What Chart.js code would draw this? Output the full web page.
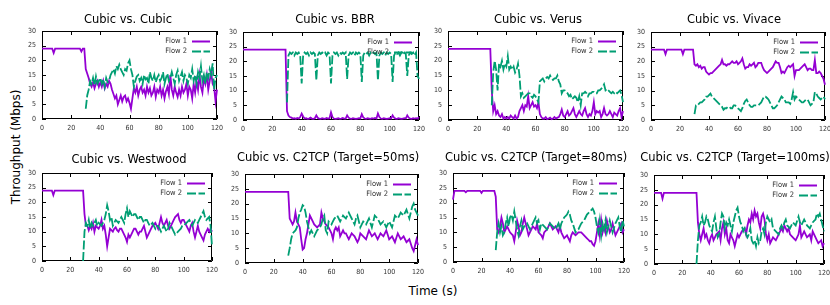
<!DOCTYPE html>
<html lang="en">
<head>
<meta charset="UTF-8">
<title>Cubic throughput comparison</title>
<script src="https://cdn.jsdelivr.net/npm/chart.js"></script>
<style>
  body { margin: 0; width: 830px; height: 305px; overflow: hidden; background: #fff; position: relative; font-family: "DejaVu Sans", sans-serif; }
  canvas { position: absolute; }
  .axis-label { position: absolute; font-size: 12px; color: #000; white-space: nowrap; transform: translate(-50%, -50%); }
  #ylabel { left: 16px; top: 147px; transform: translate(-50%, -50%) rotate(-90deg); }
  #xlabel { left: 433px; top: 291px; }
</style>
</head>
<body>
<div class="axis-label" id="ylabel">Throughput (Mbps)</div>
<div class="axis-label" id="xlabel">Time (s)</div>
<script>
// time axis in seconds
const seconds = Array.from({ length: 121 }, (_, i) => i);
const flow2Start = 29;
const xTicks = [0, 20, 40, 60, 80, 100, 120];
const yTicks = [0, 5, 10, 15, 20, 25, 30];
const seriesNames = ['Flow 1', 'Flow 2'];

// throughput (Mbps), flow 1 from t=0, flow 2 from t=29
const cubicCubicF1 = [24,24,24,24,24,24,24,24,22.5,24, 24,24,24,24,24,24,24,24,24,24, 24,24,24,24,24,24,24,23,24,24,
  17,15.5,14,12,11,12.5,10.5,12,13,11, 12.5,11,13,10.5,12,11,13,12,10,8.5, 7,8,5,6.5,8,6,7.5,8,6,7,
  5.5,3.5,7,10.5,9,11,8,10,11,9, 10,8,11,9,10.5,8,9,11,7.5,10, 9,11,8,10,7,9.5,11,8.5,15,10,
  8,11,9,7.5,10,8,11,9,10,12, 8,11,10,7,12,9,13,10,15,11, 9,14,12,15,10,13,16,12,11,6, 10];
const cubicCubicF2 = [null,
  3.5,8,10,13,12,14,11.5,14.5,12,13, 14,12,13.5,11,14,12.5,13,15,16,17, 15.5,18,17,18.5,17,16,15,17,16.5,19,
  20,17,15,11,13,14.5,15,13,14,12, 15,13.5,14,12,16,14,13,15,12.5,14, 15,13,14,16,12,14,15.5,13,14,16,
  14,12,15,16.5,13,14.5,16,13,15,14, 12,15,14,17,13,15,12,16,14,18, 13,15,12,16,14,17,15,19,10,14, 15];

const cubicBbrF1 = [24,24,24,24,24,24,24,24,24,24, 24,24,24,24,24,24,24,24,24,24, 24,24,24,24,24,24,24,24,24,24,
  3,1.5,1,0.8,0.5,0.6,0.4,0.7,0.5,1, 2.2,1.2,0.5,0.6,0.4,0.5,0.8,0.5,0.4,0.6, 1.6,0.7,0.5,0.4,0.6,0.5,0.4,0.7,0.5,0.6,
  2.6,1,0.5,0.4,0.5,0.6,0.4,0.5,0.7,0.5, 0.5,1.6,0.8,0.5,0.4,0.6,0.5,0.4,0.5,0.6, 0.5,2,0.9,0.5,0.4,0.6,0.5,0.4,0.6,0.5,
  0.7,0.5,2.2,1,0.5,0.4,0.6,0.5,0.4,0.5, 0.6,0.5,1.6,0.8,0.5,0.4,0.6,0.5,0.4,0.5, 0.6,0.5,1.6,0.8,0.5,0.4,0.6,0.5,0.6,0.5, 1];
const cubicBbrF2 = [null,
  6,22,23,22.5,23,22,23,22.5,23,22, 12.5,22,23,22.5,23,22,23,22.5,23,22.5, 13.5,22,23,22.5,23,22.5,23,22,23,22.5,
  12.5,22,23,22.5,23,22,23,22.5,23,22.5, 23,14,22,23,22.5,23,22,23,22.5,23, 22.5,13,22,23,22.5,23,22,23,22.5,23,
  22.5,23,13.5,22,23,22.5,23,22,23,22.5, 23,22.5,13,22,23,22.5,23,22,23,22.5, 23,22.5,15,22,23,22.5,23,22,23,15, 14];

const cubicVerusF1 = [24,24,24,24,24,24,24,24,24,24, 24,24,24,24,24,24,24,24,24,24, 24,24,24,24,24,24,24,24,24,24,
  10,3,5,2,3,1.5,1,2,0.5,1, 0.5,1,0.5,1.5,1,0.5,1.5,0.5,1,3, 4,5,3,5,4.5,8,4,5,6,4.5,
  5,4,6,2,1,0.5,0.5,1,0.3,0.5, 0.8,0.3,0.5,1,0.5,0.8,1,2,3.5,1.5, 1,2,3,1.5,2,3,4,2,1,2,
  3,2,1.5,3,4,2,1,2,1.5,3, 6,2,3,2.5,3,1,2,4,2,1.5, 2,3,2,1,2.5,2,1.5,3,4,1, 3];
const cubicVerusF2 = [null,
  5,16,20,17,10,19,18,20,17,19, 18,21.5,17,18,17,18,16,17,19,15, 8,9,7.5,8,8.5,9,9,8,7.5,8.5,
  8,7,6,13,13.5,14,13,14,14.5,14, 15,14,13.5,14,14,15,13,12,9,10, 10,9.5,9,8,8.5,7,7.5,8,7.5,6,
  8,5,9,9,9.5,9,8,9,9,9.5, 9.5,9,9,10,10,10.5,11,12,10,10.5, 10,9.5,9,9.5,9,9.5,9,9.5,10,8.5, 6];

const cubicVivaceF1 = [24,24,24,24,24,24,24,24,24,24, 22.5,24,24,24,24,24,24,24,24,24, 24,24,22.5,24,24,24,24,24,24,24,
  19,18.5,19,18,18.5,17.5,18,18,16.5,16, 15.5,16,16,16.5,17,17.5,18,18.5,19,20.5, 19,19,18.5,19,19,19.5,20,19.5,19.5,20,
  19,19.5,20,21,19,17.5,18,18,19,18.5, 19,19.5,18,18.5,19.5,19.5,19.5,18,17,16.5, 16,16.5,17,17.5,18,19,20,19.5,19.5,18,
  16,16.5,16,17,18,18.5,18,18.5,19,15, 17,17,17,17.5,18,18.5,19,18,17,17.5, 17.5,17,17,20.5,16,16,16.5,16,15,14, 12];
const cubicVivaceF2 = [null,
  2,5,5,5.5,6,6,6.5,7,8,8, 8.5,9,8,7.5,7,6.5,6,5.5,5,4.5, 3.5,4,4,4.5,4.5,4,4,5,5,4.5,
  4,3.5,3,4,5.5,6.5,7,6,5,4.5, 4.5,5,5,5,5,5.5,6,7,8,8, 7.5,7,6,5,4,4,4.5,5,6,7,
  8,7.5,7,6,6,6,5.5,7,9.5,7, 8,7.5,7,6.5,6,6,6.5,7,7,6, 5,5.5,6,9.5,9,8,7.5,7,7.5,8, 7];

const cubicWestwoodF1 = [24,24,24,24,24,24,24,24,22.5,24, 24,24,24,24,24,24,24,24,24,24, 24,24,24,24,24,24,24,24,24,24,
  16,12,12,10.5,12,11,13,10,12,11.5, 11,12,14,11,12,9,5,8,11,10.5, 10,11,11.5,10.5,10,11,11,10,9,8,
  6.5,9,8,9,10,11,11,10,9,10, 10,11,12,10,8,9,10,11,12,12.5, 13,12,11,13,15,13,12,13,14,12,
  11,12,13,14,15,15.5,16,14,13,14, 14,13,12,11,10,12,13,10,8,10, 12,10,9,8,7,9,10,11,10,11, 10];
const cubicWestwoodF2 = [0,
  10,13,12,14,11,13,12,13,14,12, 13,12.5,12,13,14,16,19,17,14,15, 12,13,14,13.5,13,14,15,14,13,16,
  18,15,17,16,15,16,16,15,14,15, 15,14,13,14,14,13,12,12.5,13,12, 11,12,12,11,10,11,12,11,10,11,
  13,12,11,10,9,9.5,10,10.5,11,12, 12,12.5,13,13.5,14,13,12,13,14,13.5, 13,14,15,16,17,15,14,14.5,15,12, 5];

const c2tcp50F1 = [24,24,24,24,24,24,24,24,24,24, 24,24,24,24,24,24,24,24,24,24, 24,24,24,24,24,24,24,24,24,24,
  24,15,14,13,14,17,14,13,12,8, 4.5,5,8,10,13,16,15,14,13,12.5, 12,12.5,13,17,15,14,13,12.5,12,11,
  10,8,11,12,11,12,9,10,11,10, 10,9,8,9,10,9.5,9,8,7,8, 10,9.5,9,8.5,8,9.5,11,10,9,9.5,
  10,9,8,9,10,9.5,9,10,11,9.5, 8,8.5,9,8,7,8.5,10,9,8,8.5, 9,8,7,7.5,8,6.5,5,4,6,8, 6];
const c2tcp50F2 = [null,
  2.5,5,8,10,10.5,11,12,15,17,18, 19.5,19,17,14,12,10,11,10,9,10, 11,11.5,12,13,15,16,11,10,14,13.5,
  13,14,15,15.5,16,15,14,15,16,15.5, 15,16,17,16,15,14,13,15,16,14, 12,13,14,13.5,13,14,15,13.5,12,14,
  16,15.5,15,14,13,13.5,14,13,12,13, 14,13,12,14,16,15.5,15,16,17,16.5, 16,17,18,16.5,15,17,19,20,18,17, 16];

const c2tcp80F1 = [21,24,24,24,24,24,24,24,24,23.5, 24,24,24,24,24,24,24,24,24,24, 23.3,24,24,24,24,24,24,24,24,24,
  22,11,10,12,15,13,10,11,12,11, 10,9.5,9,7,10,14,12,9,10,13, 15,13,11,9,10,11,12,11.5,11,13,
  10,9.5,9,8,10,10.5,11,12,13,12, 11,11.5,12,11,10,12,10,9,8,8.5, 9,8,7,9,10,9.5,9,9.5,10,10,
  10,9.5,9,8.5,8,7.5,7,7,6,5.5, 7,10,13,9,14,10,12,10,14,12, 10,11,13,11,9,10,11,12,13,10, 11];
const c2tcp80F2 = [null,
  4,10,13,10,12,9,10,13,15,12, 15,16,14,17,14,11,9,12,14,11, 12,12.5,13,12,11,12,13,14,15,13,
  14,11,13,12.5,12,11.5,11,12,13,12.5, 12,11.5,11,12,13,11,13,14,15,15.5, 16,17,16,14,13,11.5,10,10.5,11,12,
  13,13.5,14,15,16,16.5,17,17.5,18,17, 15,12,10,14,9,13,11,14,10,12, 14,12,10,11.5,13,14,15,12,10,14, 12];

const c2tcp100F1 = [24,24,24,24,24,24,22,24,24,24, 24,24,24,24,24,24,24,24,24,24, 24,24,24,24,24,24,24,24,24,24,
  24,14,10,8,10,12,9,10,8,7, 9,10,8,9,10,10.5,11,8,12,14, 10,12,8,7,10,9,8,6,8,10,
  9,10,11,11.5,12,10,13,15,14,17, 15,18,16,17,14,12,16,17,15,10, 8,10,7,8,9,8.5,8,9,10,11,
  12,11,13,12,11,12,10,9.5,9,8.5, 8,9,10,13,9,10,11,10,9,9.5, 10,8,11,10,9,8,7,7.5,8,6, 7];
const c2tcp100F2 = [null,
  0,8,13,14,16,13,14,16,15,13, 12,11,14,16,12,9,10,14,17,16, 12,14,13,15,13,11,14,16,18,19,
  16,14,13,11,12,10,9,10,12,8, 7,8,6,9,7,8,11,12,10,14, 16,15,14,15,12,11.5,11,10.5,10,12,
  13,12,14,15,13,12.5,12,13,14,13.5, 13,14.5,16,14,13,14,15,14,13,12.5, 12,13,14,14.5,15,17,16,17,15,13, 11];

// plot boxes [left, top, width, height] in page px, title centre [x, y]
const panels = [
  { title: 'Cubic vs. Cubic', f1: cubicCubicF1, f2: cubicCubicF2, box: [42, 31, 175, 88], titleAt: [128, 20] },
  { title: 'Cubic vs. BBR', f1: cubicBbrF1, f2: cubicBbrF2, box: [243, 32, 176, 88], titleAt: [335, 20.5] },
  { title: 'Cubic vs. Verus', f1: cubicVerusF1, f2: cubicVerusF2, box: [448, 31, 175, 89], titleAt: [538, 20.5] },
  { title: 'Cubic vs. Vivace', f1: cubicVivaceF1, f2: cubicVivaceF2, box: [651, 32, 174, 88], titleAt: [734, 20.5] },
  { title: 'Cubic vs. Westwood', f1: cubicWestwoodF1, f2: cubicWestwoodF2, box: [42, 173, 170, 88], titleAt: [129, 160] },
  { title: 'Cubic vs. C2TCP (Target=50ms)', f1: c2tcp50F1, f2: c2tcp50F2, box: [245, 174, 173, 89], titleAt: [328, 158.5] },
  { title: 'Cubic vs. C2TCP (Target=80ms)', f1: c2tcp80F1, f2: c2tcp80F2, box: [453, 173, 171, 89], titleAt: [536, 158.5] },
  { title: 'Cubic vs. C2TCP (Target=100ms)', f1: c2tcp100F1, f2: c2tcp100F2, box: [654, 175, 170, 89], titleAt: [735, 158.5] },
];

const AXIS_W = 40, TOP_PAD = 30, RIGHT_PAD = 12, XAXIS_H = 20;
const smallFont = { family: '"DejaVu Sans Condensed", "DejaVu Sans", sans-serif', size: 7 };

// gnuplot style border with inward ticks on all four sides
const framePlugin = {
  id: 'frame',
  beforeDatasetsDraw(chart) {
    const { ctx, chartArea: a, scales: { x, y } } = chart;
    ctx.save();
    ctx.strokeStyle = '#000';
    ctx.lineWidth = 1;
    ctx.beginPath();
    ctx.rect(a.left + 0.5, a.top + 0.5, a.width - 1, a.height - 1);
    xTicks.forEach(v => {
      const px = Math.round(x.getPixelForValue(v)) + 0.5;
      ctx.moveTo(px, a.bottom); ctx.lineTo(px, a.bottom - 4);
      ctx.moveTo(px, a.top); ctx.lineTo(px, a.top + 4);
    });
    yTicks.forEach(v => {
      const py = Math.round(y.getPixelForValue(v)) + 0.5;
      ctx.moveTo(a.left, py); ctx.lineTo(a.left + 4, py);
      ctx.moveTo(a.right, py); ctx.lineTo(a.right - 4, py);
    });
    ctx.stroke();
    ctx.restore();
  }
};

// key in the top right corner + title above the plot
const keyPlugin = {
  id: 'keyTitle',
  afterDraw(chart, args, opts) {
    const { ctx, chartArea: a } = chart;
    ctx.save();
    ctx.font = '7.5px "DejaVu Sans Condensed", "DejaVu Sans", sans-serif';
    ctx.textAlign = 'right';
    ctx.textBaseline = 'middle';
    chart.data.datasets.forEach((ds, i) => {
      const yy = a.top + 10.5 + i * 10;
      ctx.fillStyle = '#333';
      ctx.fillText(ds.label, a.right - 30, yy);
      ctx.strokeStyle = ds.borderColor;
      ctx.lineWidth = 2;
      ctx.setLineDash(ds.borderDash || []);
      ctx.beginPath();
      ctx.moveTo(a.right - 25, yy);
      ctx.lineTo(a.right - 7, yy);
      ctx.stroke();
    });
    ctx.setLineDash([]);
    ctx.font = '11.5px "DejaVu Sans", sans-serif';
    ctx.textAlign = 'center';
    ctx.fillStyle = '#000';
    ctx.fillText(opts.text, opts.x, opts.y);
    ctx.restore();
  }
};

panels.forEach(p => {
  const [L, T, W, H] = p.box;
  const cv = document.createElement('canvas');
  const cw = AXIS_W + W + RIGHT_PAD, ch = TOP_PAD + H + XAXIS_H;
  const left = L - AXIS_W, top = T - TOP_PAD;
  cv.width = cw; cv.height = ch;
  cv.style.left = left + 'px';
  cv.style.top = top + 'px';
  document.body.appendChild(cv);

  new Chart(cv, {
    type: 'line',
    data: {
      datasets: [
        {
          label: seriesNames[0],
          data: p.f1.map((v, i) => ({ x: seconds[i], y: v })),
          borderColor: '#9400d3',
          borderWidth: 1.8,
          order: 1,
        },
        {
          label: seriesNames[1],
          data: p.f2.map((v, i) => ({ x: seconds[i + flow2Start], y: v })),
          borderColor: '#009e73',
          borderWidth: 1.8,
          borderDash: [9, 2.5],
          order: 0,
        },
      ],
    },
    options: {
      responsive: false,
      animation: false,
      events: [],
      clip: false,
      layout: { padding: { left: 0, top: TOP_PAD, right: RIGHT_PAD, bottom: 0 } },
      elements: { point: { radius: 0 }, line: { tension: 0 } },
      plugins: {
        legend: { display: false },
        tooltip: { enabled: false },
        keyTitle: { text: p.title, x: p.titleAt[0] - left, y: p.titleAt[1] - top },
      },
      scales: {
        x: {
          type: 'linear', min: 0, max: 120,
          afterBuildTicks: s => { s.ticks = xTicks.map(v => ({ value: v })); },
          afterFit: s => { s.height = XAXIS_H; },
          ticks: { font: smallFont, color: '#333', padding: 5, maxRotation: 0, autoSkip: false },
          grid: { display: false, drawTicks: false },
          border: { display: false },
        },
        y: {
          min: 0, max: 30,
          afterBuildTicks: s => { s.ticks = yTicks.map(v => ({ value: v })); },
          afterFit: s => { s.width = AXIS_W; },
          ticks: { font: smallFont, color: '#333', padding: 6 },
          grid: { display: false, drawTicks: false },
          border: { display: false },
        },
      },
    },
    plugins: [framePlugin, keyPlugin],
  });
});
</script>
</body>
</html>
